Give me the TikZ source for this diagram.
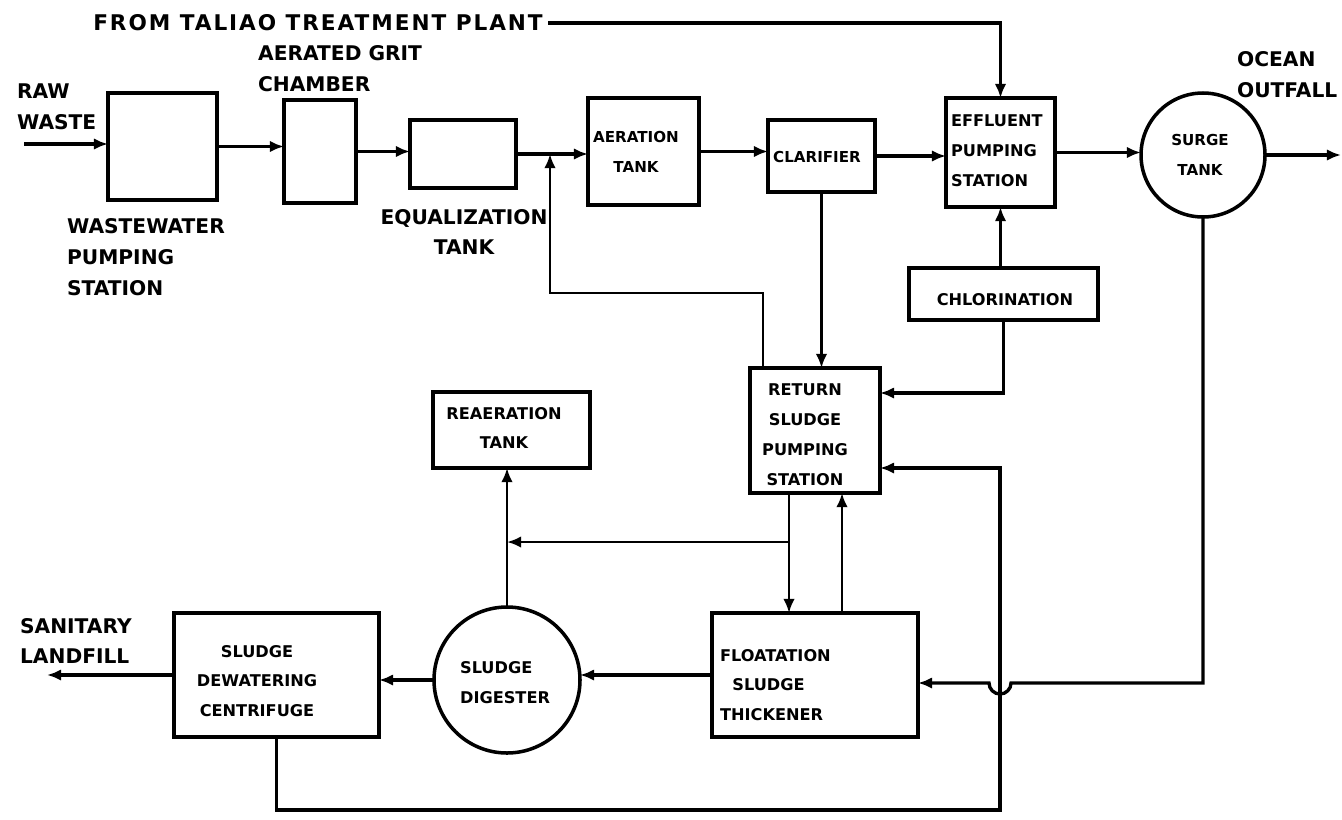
\documentclass[tikz,border=0pt]{standalone}
\usepackage{fontspec}
\setmainfont{DejaVu Sans}
\newfontfamily\widefont{DejaVu Sans}[LetterSpace=9]
\usetikzlibrary{arrows.meta,calc}
\begin{document}
\begin{tikzpicture}[x=0.02cm,y=-0.02cm,
  box/.style 2 args={draw, line width=2pt, minimum width=#1*0.02cm, minimum height=#2*0.02cm, inner sep=0pt, outer sep=0pt},
  tank/.style={draw, circle, line width=2pt, minimum size=#1*0.02cm, inner sep=0pt, outer sep=0pt},
  flow/.style={line width=1.9pt, -{Latex[length=8pt,width=6.5pt]}},
  flowthin/.style={line width=1.4pt, -{Latex[length=8pt,width=6.5pt]}},
  biglbl/.style={font=\bfseries\fontsize{11.5}{17.5}\selectfont, inner sep=1pt},
  boxlbl/.style={font=\bfseries\fontsize{9.2}{17}\selectfont, inner sep=1pt, align=center},
  smalllbl/.style={font=\bfseries\fontsize{8.6}{17}\selectfont, inner sep=1pt, align=center}]
\useasboundingbox (0,0) rectangle (1342,819);

% boxes and tanks
\node[box={109}{107}] (ww) at (162.5,146.5) {};
\node[box={72}{103}] (grit) at (320,151.5) {};
\node[box={106}{68}] (eq) at (463,154) {};
\node[box={111}{107}] (aer) at (643.5,151.5) {};
\node[box={107}{72}] (clar) at (821.5,156) {};
\node[box={109}{109}] (eff) at (1000.5,152.5) {};
\node[tank=124] (surge) at (1203,155) {};
\node[box={189}{52}] (chl) at (1003.5,294) {};
\node[box={130}{125}] (rsps) at (815,430.5) {};
\node[box={157}{76}] (rea) at (511.5,430) {};
\node[box={206}{124}] (flo) at (815,675) {};
\node[tank=146] (dig) at (507,680) {};
\node[box={205}{124}] (cen) at (276.5,675) {};

% outside labels
\node[inner sep=3pt, font=\widefont\bfseries\fontsize{12.3}{17.5}\selectfont] (from) at (318,23) {FROM TALIAO TREATMENT PLANT};
\node[biglbl, align=left, anchor=west] (gritlbl) at (256,69) {AERATED GRIT\\CHAMBER};
\node[biglbl, align=left, anchor=west] (rawlbl) at (15,107) {RAW\\WASTE};
\node[biglbl, align=left, anchor=west] (wwlbl) at (65,257) {WASTEWATER\\PUMPING\\STATION};
\node[biglbl, align=center] (eqlbl) at (464,232) {EQUALIZATION\\TANK};
\node[biglbl, align=left, anchor=west] (oclbl) at (1235,75) {OCEAN\\OUTFALL};
\node[biglbl, align=left, anchor=west] (sanlbl) at (18,641) {SANITARY\\LANDFILL};

% inside labels
\node[smalllbl] (aerlbl) at (636,152) {AERATION\\TANK};
\node[smalllbl] (clarlbl) at (817,157) {CLARIFIER};
\node[boxlbl, align=left, anchor=west] (efflbl) at (949,151) {EFFLUENT\\PUMPING\\STATION};
\node[smalllbl] (surgelbl) at (1200,155) {SURGE\\TANK};
\node[boxlbl] (chllbl) at (1005,300) {CHLORINATION};
\node[boxlbl] (rspslbl) at (805,435) {RETURN\\SLUDGE\\PUMPING\\STATION};
\node[boxlbl] (realbl) at (504,428) {REAERATION\\TANK};
\node[boxlbl, align=left, anchor=west] (flolbl) at (718,685) {FLOATATION\\\hspace{7pt}SLUDGE\\THICKENER};
\node[boxlbl] (cenlbl) at (257,681) {SLUDGE\\DEWATERING\\CENTRIFUGE};
\node[boxlbl, align=left, anchor=west] (diglbl) at (458,683) {SLUDGE\\DIGESTER};

% coordinates
\coordinate (rawin) at (24,144);
\coordinate (jx) at (550,293);
\coordinate (rtop) at ($(rsps.north west)+(13,0)$);
\coordinate (outf) at (1341,155);
\coordinate (chlr) at ($(rsps.north east)+(0,25)$);
\coordinate (br) at (1000,810);
\coordinate (rsr) at ($(rsps.south east)+(0,-25)$);
\coordinate (hopR) at (1011,683);
\coordinate (hopL) at (989,683);
\coordinate (d1) at ($(rsps.south)+(-26,0)$);
\coordinate (u1) at ($(flo.north)+(27,0)$);
\coordinate (b1) at ($(d1)+(0,49)$);
\coordinate (lf) at (47,675);

% main line
\draw[flow] (rawin) -- (rawin -| ww.west);
\draw[flow] (ww.east) -- (ww.east -| grit.west);
\draw[flow] (grit.east) -- (grit.east -| eq.west);
\draw[flow] (eq.east) -- (eq.east -| aer.west);
\draw[flow] (aer.east) -- (aer.east -| clar.west);
\draw[flow] (clar.east) -- (clar.east -| eff.west);
\draw[flow] (eff.east) -- (eff.east -| surge.west);
\draw[flow] (surge.east) -- (outf);
\draw[flow] (from.east) -| (eff.north);
\draw[flow] (chl.north -| eff.south) -- (eff.south);

% return sludge
\draw[flowthin] (rtop) |- (jx) -- (jx |- eq.east);
\draw[flowthin] (clar.south) -- (clar.south |- rsps.north);
\draw[flow] (chl.south) |- (chlr);
\draw[flow] (cen.south) |- (br) |- (rsr);
\draw[flow] (surge.south) |- (hopR) arc[start angle=0, end angle=-180, radius=0.22cm] -- (hopL -| flo.east);
\draw[flowthin] (d1) -- (d1 |- flo.north);
\draw[flowthin] (u1) -- (u1 |- rsps.south);
\draw[flowthin] (b1) -- (b1 -| dig.north);
\draw[flowthin] (dig.north) -- (dig.north |- rea.south);

% sludge line
\draw[flow] (flo.west) -- (flo.west -| dig.east);
\draw[flow] (dig.west) -- (dig.west -| cen.east);
\draw[flow] (cen.west) -- (lf);
\end{tikzpicture}
\end{document}
